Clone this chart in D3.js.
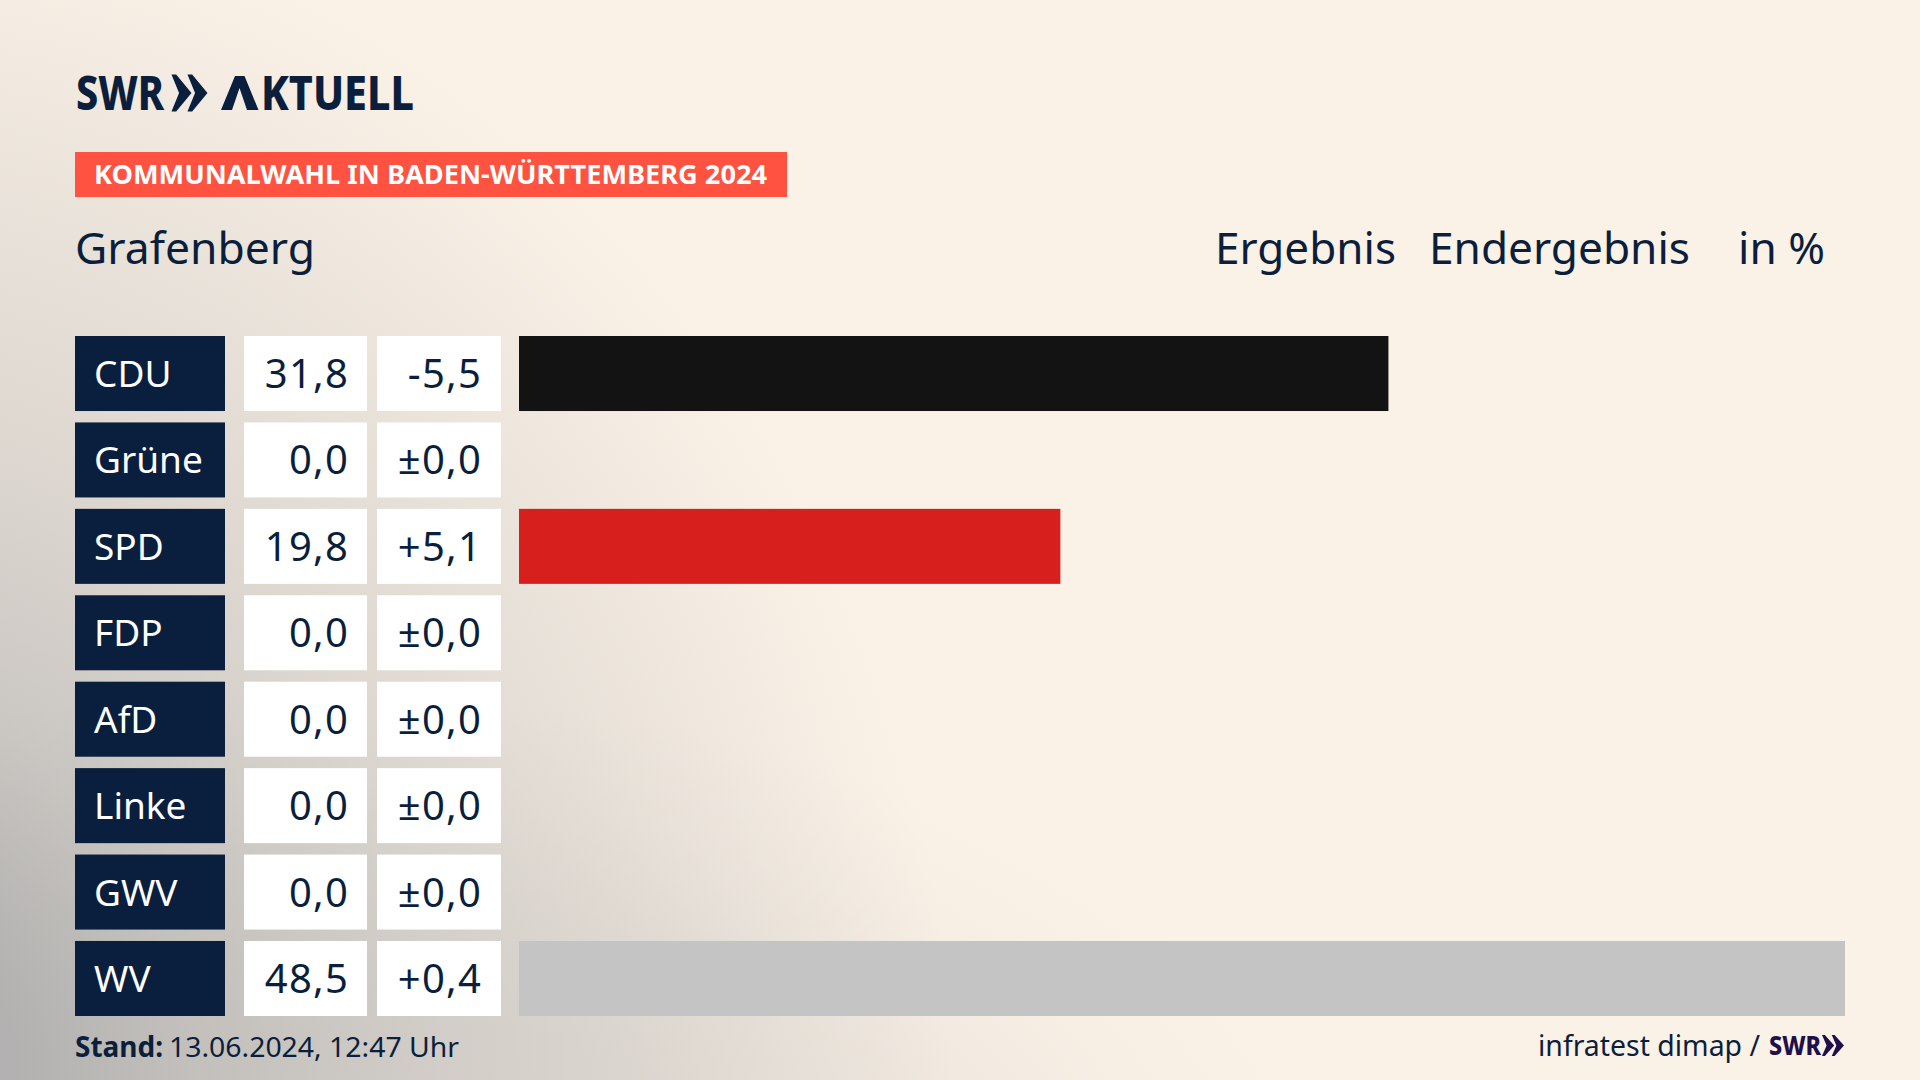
<!DOCTYPE html>
<html lang="de">
<head>
<meta charset="utf-8">
<title>Grafenberg</title>
<script src="https://cdn.jsdelivr.net/npm/d3@7"></script>
<style>
html, body { margin: 0; padding: 0; background: #fbf2e7; }
svg { display: block; }
text { font-family: "Noto Sans", sans-serif; fill: #0b1f3d; }
</style>
</head>
<body>
<script>
var parties = ['CDU', 'Grüne', 'SPD', 'FDP', 'AfD', 'Linke', 'GWV', 'WV'];
var results = [31.8, 0, 19.8, 0, 0, 0, 0, 48.5];
var changes = [-5.5, 0, 5.1, 0, 0, 0, 0, 0.4];

var width = 1920, height = 1080;
var navy = '#0a1e3e';

var svg = d3.select('body').append('svg')
    .attr('width', width)
    .attr('height', height);

// background, cream with a grey glow along the left and bottom edges
var defs = svg.append('defs');
function glow(id, cx, cy, rx, ry, stops) {
    var g = defs.append('radialGradient')
        .attr('id', id)
        .attr('gradientUnits', 'userSpaceOnUse')
        .attr('cx', 0).attr('cy', 0).attr('r', 1)
        .attr('gradientTransform', 'translate(' + cx + ',' + cy + ') scale(' + rx + ',' + ry + ')');
    stops.forEach(function(s) {
        g.append('stop')
            .attr('offset', s[0])
            .attr('stop-color', '#a8a8a8')
            .attr('stop-opacity', s[1]);
    });
}
glow('glowLeft', -150, 1080, 1100, 1200, [[0.15, 0.84], [0.31, 0.6], [0.54, 0.37], [0.72, 0.23], [0.85, 0.12], [0.95, 0.04], [1, 0]]);
glow('glowBottom', 300, 1250, 1050, 560, [[0, 0.22], [0.45, 0.2], [0.65, 0.14], [0.82, 0.06], [1, 0]]);

svg.append('rect').attr('width', width).attr('height', height).attr('fill', '#fbf2e7');
['glowLeft', 'glowBottom'].forEach(function(id) {
    svg.append('rect').attr('width', width).attr('height', height).attr('fill', 'url(#' + id + ')');
});

// logo
var logo = svg.append('g');
logo.append('text')
    .attr('x', 76).attr('y', 110)
    .attr('font-size', 48).attr('font-weight', 800)
    .attr('textLength', 88).attr('lengthAdjust', 'spacingAndGlyphs')
    .text('SWR');
var aktuell = logo.append('text')
    .attr('y', 110)
    .attr('font-size', 48).attr('font-weight', 800);
// the logo's A has no crossbar, so it is drawn as a path under an empty letter
aktuell.append('tspan')
    .attr('x', 221)
    .style('fill', 'none')
    .text('A');
aktuell.append('tspan')
    .attr('x', 261)
    .attr('textLength', 153).attr('lengthAdjust', 'spacingAndGlyphs')
    .text('KTUELL');
logo.append('path')
    .attr('fill', navy)
    .attr('d', 'M221,110L235,76L244.5,76L258.5,110L247,110L239.5,88L232,110Z');

function chevrons(g, x, y, w, h, fill) {
    [0, 0.444].forEach(function(o) {
        var x0 = x + o * w;
        g.append('path')
            .attr('fill', fill)
            .attr('d', 'M' + x0 + ',' + y +
                'L' + (x0 + w * 0.13) + ',' + y +
                'L' + (x0 + w * 0.555) + ',' + (y + h / 2) +
                'L' + (x0 + w * 0.13) + ',' + (y + h) +
                'L' + x0 + ',' + (y + h) +
                'L' + (x0 + w * 0.21) + ',' + (y + h / 2) + 'Z');
    });
}
chevrons(logo, 171.5, 74.5, 36, 37, navy);

// badge
svg.append('rect')
    .attr('x', 75).attr('y', 152)
    .attr('width', 712).attr('height', 45)
    .attr('fill', '#ff5240');
svg.append('text')
    .attr('x', 94).attr('y', 184)
    .attr('font-size', 27).attr('font-weight', 700)
    .attr('textLength', 673).attr('lengthAdjust', 'spacingAndGlyphs')
    .style('fill', '#fff')
    .text('KOMMUNALWAHL IN BADEN-WÜRTTEMBERG 2024');

// headings
function heading(label, x, len) {
    svg.append('text')
        .attr('x', x).attr('y', 264)
        .attr('font-size', 44)
        .attr('textLength', len).attr('lengthAdjust', 'spacingAndGlyphs')
        .text(label);
}
heading('Grafenberg', 75, 240);
heading('Ergebnis', 1215, 181);
heading('Endergebnis', 1429, 261);
heading('in %', 1738, 87);

// scales
var y = d3.scaleBand().domain(parties).range([336, 1016]).paddingInner(0.1319);
var x = d3.scaleLinear().domain([0, 48.5]).range([519, 1845]);
var barColor = d3.scaleOrdinal()
    .domain(['CDU', 'SPD', 'WV'])
    .range(['#131313', '#d7201e', '#c4c4c4']);

var de = d3.formatLocale({ decimal: ',', thousands: '.', grouping: [3], currency: ['', ' €'] });
var fmtResult = de.format('.1f');
var fmtChange = de.format('+.1f');
function changeLabel(v) {
    return v === 0 ? '±' + fmtResult(0) : fmtChange(v).replace('−', '-');
}

var rows = svg.selectAll('g.row')
    .data(parties)
    .join('g')
    .attr('class', 'row')
    .attr('transform', function(d) { return 'translate(0,' + y(d) + ')'; });

rows.append('rect')
    .attr('x', 75).attr('width', 150)
    .attr('height', y.bandwidth())
    .attr('fill', navy);
rows.append('rect')
    .attr('x', 244).attr('width', 123)
    .attr('height', y.bandwidth())
    .attr('fill', '#fff');
rows.append('rect')
    .attr('x', 377).attr('width', 124)
    .attr('height', y.bandwidth())
    .attr('fill', '#fff');

rows.append('text')
    .attr('x', 94).attr('y', 51)
    .attr('font-size', 37)
    .style('fill', '#fff')
    .text(function(d) { return d; });
rows.append('text')
    .attr('x', 349).attr('y', 52)
    .attr('text-anchor', 'end')
    .attr('font-size', 40)
    .attr('letter-spacing', 1.2)
    .text(function(d, i) { return fmtResult(results[i]); });
rows.append('text')
    .attr('x', 482).attr('y', 52)
    .attr('text-anchor', 'end')
    .attr('font-size', 40)
    .attr('letter-spacing', 1.2)
    .text(function(d, i) { return changeLabel(changes[i]); });

// bars
svg.selectAll('rect.bar')
    .data(parties.filter(function(d, i) { return results[i] > 0; }))
    .join('rect')
    .attr('class', 'bar')
    .attr('x', x(0))
    .attr('y', function(d) { return y(d); })
    .attr('width', function(d) { return x(results[parties.indexOf(d)]) - x(0); })
    .attr('height', y.bandwidth())
    .attr('fill', function(d) { return barColor(d); });

// footer
var stand = svg.append('text').attr('y', 1057).attr('font-size', 28);
stand.append('tspan')
    .attr('x', 75).attr('font-weight', 700)
    .attr('textLength', 88).attr('lengthAdjust', 'spacingAndGlyphs')
    .text('Stand:');
stand.append('tspan')
    .attr('x', 169)
    .attr('textLength', 290).attr('lengthAdjust', 'spacingAndGlyphs')
    .text('13.06.2024, 12:47 Uhr');

svg.append('text')
    .attr('x', 1538).attr('y', 1056)
    .attr('font-size', 29)
    .attr('textLength', 222).attr('lengthAdjust', 'spacingAndGlyphs')
    .text('infratest dimap /');
svg.append('text')
    .attr('x', 1769).attr('y', 1055)
    .attr('font-size', 27).attr('font-weight', 800)
    .attr('textLength', 52).attr('lengthAdjust', 'spacingAndGlyphs')
    .style('fill', '#1f0f4a')
    .text('SWR');
chevrons(svg, 1822, 1035, 22, 21, '#1f0f4a');
</script>
</body>
</html>
